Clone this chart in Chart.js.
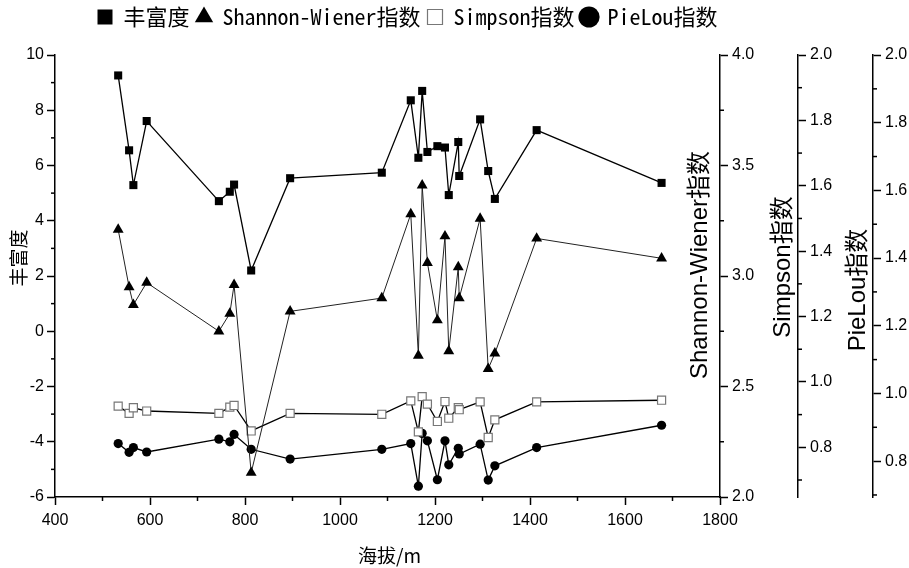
<!DOCTYPE html>
<html><head><meta charset="utf-8">
<script src="https://cdn.jsdelivr.net/npm/chart.js@4/dist/chart.umd.min.js"></script>
<style>html,body{margin:0;padding:0;background:#fff}#wrap{width:909px;height:568px;position:relative}</style>
</head><body><div id="wrap"><canvas id="c"></canvas></div>
<script>
// ---- data ----
const altitude = [533,556,565,593,745,768,777,813,895,1088,1149,1165,1173,1184,1205,1221,1229,1249,1251,1295,1312,1326,1414,1677];
const richness = [9.26,6.55,5.29,7.61,4.71,5.05,5.31,2.20,5.54,5.74,8.36,6.28,8.70,6.49,6.70,6.65,4.93,6.85,5.62,7.67,5.80,4.79,7.28,5.37];
const shannon  = [3.21,2.95,2.87,2.97,2.75,2.83,2.96,2.11,2.84,2.90,3.28,2.64,3.41,3.06,2.80,3.18,2.66,3.04,2.90,3.26,2.58,2.65,3.17,3.08];
const simpson  = [0.926,0.904,0.921,0.911,0.904,0.923,0.928,0.850,0.904,0.901,0.942,0.847,0.955,0.932,0.879,0.940,0.889,0.921,0.915,0.939,0.830,0.884,0.939,0.944];
const pielou   = [0.852,0.826,0.840,0.827,0.865,0.857,0.879,0.835,0.806,0.835,0.852,0.726,0.882,0.860,0.745,0.860,0.789,0.838,0.821,0.850,0.744,0.786,0.840,0.906];

const seriesNames = ['丰富度','Shannon-Wiener指数','Simpson指数','PieLou指数'];
const xTitle = '海拔/m';
const axisTitles = {y:'丰富度', y1:'Shannon-Wiener指数', y2:'Simpson指数', y3:'PieLou指数'};

// tick labels
const xTicks = [400,600,800,1000,1200,1400,1600,1800];
const richTicks = [-6,-4,-2,0,2,4,6,8,10];
const shanTicks = [2.0,2.5,3.0,3.5,4.0];
const simpTicks = [0.8,1.0,1.2,1.4,1.6,1.8,2.0];
const pielTicks = [0.8,1.0,1.2,1.4,1.6,1.8,2.0];
// axis extents
const xRange = [400,1800], richRange = [-6,10], shanRange = [2,4], simpRange = [0.648,2.0], pielRange = [0.694,2.0];
// minor tick steps
const minorStep = {x:100, y:1, y1:0.25, y2:0.1, y3:0.1};

const FONT = "'Liberation Sans', 'Noto Sans CJK SC', sans-serif";
const CJK = "'Noto Sans CJK SC', 'Liberation Sans', sans-serif";
const LEGFONT = "'Noto Sans Mono CJK SC', 'Noto Sans CJK SC', sans-serif";

function pts(arr){ return altitude.map((x,i)=>({x:x, y:arr[i]})); }

function fixedTicks(vals, range){
  return function(s){ s.min = range[0]; s.max = range[1]; s.ticks = vals.map(v=>({value:v})); };
}

const legendAdjust = {
  id:'legendAdjust',
  beforeLayout(chart){
    const lg = chart.legend;
    if (lg && !lg._adj){
      const f = lg.fit, d = lg.draw;
      lg.fit = function(){ f.call(this); this.height += 12; };
      lg.draw = function(){ const c = this.ctx; c.save(); c.translate(20,-5); d.call(this); c.restore(); };
      lg._adj = true;
    }
  }
};

const minorPlugin = {
  id:'minorTicks',
  afterDraw(chart){
    const ctx = chart.ctx;
    ctx.save();
    ctx.strokeStyle = '#000';
    ctx.lineWidth = 1.5;
    for (const id of Object.keys(minorStep)) {
      const s = chart.scales[id];
      const step = minorStep[id];
      const start = Math.ceil((s.min - 1e-9)/step);
      const end = Math.floor((s.max + 1e-9)/step);
      const majors = s.ticks.map(t=>t.value);
      for (let k=start;k<=end;k++){
        const v = k*step;
        if (majors.some(m=>Math.abs(m-v)<1e-6)) continue;
        const p = s.getPixelForValue(v);
        ctx.beginPath();
        if (id==='x'){ ctx.moveTo(p, s.top); ctx.lineTo(p, s.top+4); }
        else if (s.position==='left'){ ctx.moveTo(s.right, p); ctx.lineTo(s.right-4, p); }
        else { ctx.moveTo(s.left, p); ctx.lineTo(s.left+4, p); }
        ctx.stroke();
      }
    }
    ctx.restore();
  }
};

const titlePlugin = {
  id:'axisTitles',
  afterDraw(chart){
    const ctx = chart.ctx;
    ctx.save();
    ctx.fillStyle = '#000';
    ctx.textAlign = 'center';
    ctx.textBaseline = 'middle';
    const rot = (text, x, y, size, fam) => {
      ctx.save(); ctx.translate(x,y); ctx.rotate(-Math.PI/2);
      ctx.font = size + 'px ' + fam; ctx.fillText(text,0,0); ctx.restore();
    };
    const sy = chart.scales.y, s1 = chart.scales.y1, s2 = chart.scales.y2, s3 = chart.scales.y3, sx = chart.scales.x;
    rot(axisTitles.y, sy.left + 19, 258, 19, CJK);
    rot(axisTitles.y1, s1.left - 20, 265, 24, FONT);
    rot(axisTitles.y2, s2.left - 15, 267, 24, FONT);
    rot(axisTitles.y3, s3.left - 15, 290, 24, FONT);
    ctx.font = '19px ' + CJK;
    ctx.fillText(xTitle, (sx.left+sx.right)/2 + 2, 556);
    ctx.restore();
  }
};

const tickFont = {family: FONT, size: 16};
const axisCommon = {
  bounds:'data',
  grid:{display:true, drawOnChartArea:false, tickLength:8, color:'#000', tickWidth:1.5},
  border:{display:true, color:'#000', width:1.5},
};

new Chart(document.getElementById('c'), {
  type:'line',
  data:{
    datasets:[
      {label:seriesNames[0], data:pts(richness), yAxisID:'y', borderColor:'#000', backgroundColor:'#000', borderWidth:1.3,
       pointStyle:'rect', pointRadius:5.7, pointBackgroundColor:'#000', pointBorderColor:'#000', pointBorderWidth:0},
      {label:seriesNames[1], data:pts(shannon), yAxisID:'y1', borderColor:'#222', backgroundColor:'#000', borderWidth:1,
       pointStyle:'triangle', pointRadius:6.3, pointBackgroundColor:'#000', pointBorderColor:'#000', pointBorderWidth:0},
      {label:seriesNames[2], data:pts(simpson), yAxisID:'y2', borderColor:'#000', backgroundColor:'#fff', borderWidth:1.3,
       pointStyle:'rect', pointRadius:5.7, pointBackgroundColor:'#fff', pointBorderColor:'#777', pointBorderWidth:1.2},
      {label:seriesNames[3], data:pts(pielou), yAxisID:'y3', borderColor:'#000', backgroundColor:'#000', borderWidth:1.3,
       pointStyle:'circle', pointRadius:4.6, pointBackgroundColor:'#000', pointBorderColor:'#000', pointBorderWidth:0}
    ]
  },
  options:{
    responsive:true, maintainAspectRatio:false, animation:false,
    layout:{padding:{top:4, right:0, left:0, bottom:0}},
    elements:{line:{tension:0}},
    plugins:{
      tooltip:{enabled:false},
      legend:{display:true, position:'top', fullSize:false, align:'center',
        labels:{usePointStyle:true, boxWidth:15, boxHeight:15, padding:7, color:'#000',
          font:{family:LEGFONT, size:22}}}
    },
    scales:{
      x:Object.assign({}, axisCommon, {type:'linear', position:'bottom', min:xRange[0], max:xRange[1],
        ticks:{color:'#000', font:tickFont, padding:6, callback:v=>String(v)},
        afterBuildTicks:fixedTicks(xTicks, xRange),
        afterFit(s){ s.height = 71; }}),
      y:Object.assign({}, axisCommon, {type:'linear', position:'left', min:richRange[0], max:richRange[1],
        ticks:{color:'#000', font:tickFont, padding:3, callback:v=>String(v)},
        afterBuildTicks:fixedTicks(richTicks, richRange),
        afterFit(s){ s.width = 55; }}),
      y1:Object.assign({}, axisCommon, {type:'linear', position:'right', weight:0, min:shanRange[0], max:shanRange[1],
        ticks:{color:'#000', font:tickFont, padding:4, callback:v=>v.toFixed(1)},
        afterBuildTicks:fixedTicks(shanTicks, shanRange),
        afterFit(s){ s.width = 78; }}),
      y2:Object.assign({}, axisCommon, {type:'linear', position:'right', weight:1, min:simpRange[0], max:simpRange[1],
        ticks:{color:'#000', font:tickFont, padding:4, callback:v=>v.toFixed(1)},
        afterBuildTicks:fixedTicks(simpTicks, simpRange),
        afterFit(s){ s.width = 75; }}),
      y3:Object.assign({}, axisCommon, {type:'linear', position:'right', weight:2, min:pielRange[0], max:pielRange[1],
        ticks:{color:'#000', font:tickFont, padding:4, callback:v=>v.toFixed(1)},
        afterBuildTicks:fixedTicks(pielTicks, pielRange),
        afterFit(s){ s.width = 36; }})
    }
  },
  plugins:[legendAdjust, minorPlugin, titlePlugin]
});
</script>
</body></html>
